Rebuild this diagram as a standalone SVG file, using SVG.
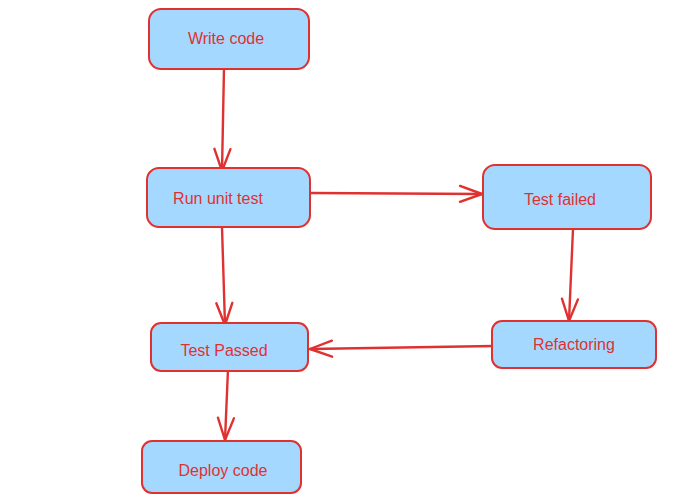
<svg xmlns="http://www.w3.org/2000/svg" width="683" height="504" viewBox="0 0 683 504">
<defs>
<style>
.box{fill:#a5d8ff;stroke:#e03131;stroke-width:2}
.lbl{font-family:"Liberation Sans",Arial,sans-serif;font-size:16px;fill:#e03131;text-anchor:middle;dominant-baseline:central}
.edge{fill:none;stroke:#e03131;stroke-width:2.4;stroke-linecap:round;marker-end:url(#ah)}
</style>
<marker id="ah" viewBox="0 0 26 20" refX="24" refY="10" markerWidth="26" markerHeight="20" markerUnits="userSpaceOnUse" orient="auto">
<path d="M2 2 L24 10 L2 18" fill="none" stroke="#e03131" stroke-width="2.4" stroke-linecap="round" stroke-linejoin="round"/>
</marker>
</defs>
<rect width="683" height="504" fill="#ffffff"/>
<g id="edges">
<path class="edge" d="M224 68 L222 171"/>
<path class="edge" d="M311 193 L482 194"/>
<path class="edge" d="M222 227 L225 325"/>
<path class="edge" d="M573 229 L569 321"/>
<path class="edge" d="M494 346 L310 349"/>
<path class="edge" d="M228 369 L225 440"/>
</g>
<g id="write-code"><rect class="box" x="149" y="9" width="160" height="60" rx="12"/><text class="lbl" x="226" y="38">Write code</text></g>
<g id="run-unit-test"><rect class="box" x="147" y="168" width="163" height="59" rx="12"/><text class="lbl" x="218" y="198">Run unit test</text></g>
<g id="test-failed"><rect class="box" x="483" y="165" width="168" height="64" rx="12"/><text class="lbl" x="560" y="199">Test failed</text></g>
<g id="test-passed"><rect class="box" x="151" y="323" width="157" height="48" rx="10"/><text class="lbl" x="224" y="350">Test Passed</text></g>
<g id="refactoring"><rect class="box" x="492" y="321" width="164" height="47" rx="10"/><text class="lbl" x="574" y="344">Refactoring</text></g>
<g id="deploy-code"><rect class="box" x="142" y="441" width="159" height="52" rx="10"/><text class="lbl" x="223" y="470">Deploy code</text></g>
</svg>
